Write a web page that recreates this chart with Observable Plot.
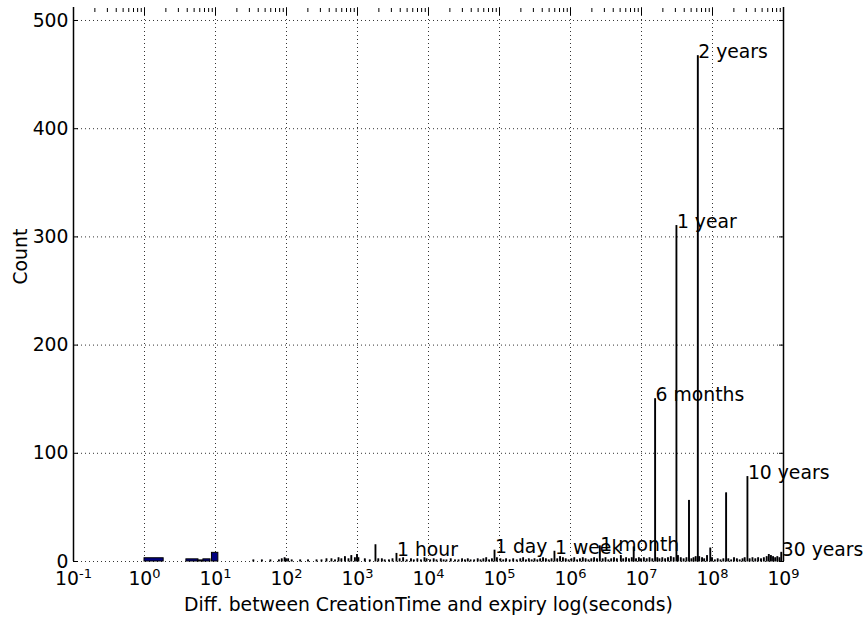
<!DOCTYPE html>
<html><head><meta charset="utf-8">
<script src="https://cdn.jsdelivr.net/npm/d3@7"></script>
<script src="https://cdn.jsdelivr.net/npm/@observablehq/plot@0.6"></script>
<style>body{margin:0;background:#fff;} svg{font-family:"DejaVu Sans",sans-serif;}</style>
</head><body><div id="chart"></div>
<script>
// wide histogram bins (log10 seconds edges) and counts
const wideLo = [0.00, 0.59, 0.76, 0.83, 0.95];
const wideHi = [0.27, 0.76, 0.83, 0.93, 1.04];
const wideCount = [3, 2, 1, 2, 8];

// narrow histogram bins: log10(seconds) centre and count
const binWidthLog = 0.012;
const binLog = [1.54,1.66,1.78,1.90,1.94,1.98,2.00,2.03,2.08,2.20,2.31,2.43,2.50,2.57,2.64,2.69,2.74,2.78,2.83,2.88,2.92,2.97,3.00,3.02,3.11,3.18,3.26,3.30,3.35,3.39,3.45,3.50,3.556,3.60,3.65,3.70,3.76,3.80,3.85,3.90,3.95,3.98,4.03,4.08,4.12,4.18,4.22,4.26,4.32,4.38,4.43,4.48,4.52,4.56,4.60,4.65,4.70,4.74,4.78,4.82,4.86,4.90,4.937,4.97,5.02,5.06,5.10,5.15,5.20,5.25,5.30,5.34,5.38,5.42,5.46,5.50,5.54,5.58,5.62,5.66,5.70,5.74,5.781,5.82,5.86,5.90,5.94,5.98,6.02,6.06,6.10,6.14,6.18,6.22,6.26,6.30,6.34,6.38,6.42,6.46,6.50,6.54,6.58,6.62,6.66,6.716,6.75,6.79,6.83,6.87,6.897,6.93,6.97,7.00,7.04,7.08,7.12,7.16,7.199,7.23,7.26,7.30,7.34,7.38,7.42,7.46,7.499,7.52,7.56,7.60,7.64,7.676,7.71,7.74,7.77,7.800,7.82,7.86,7.89,7.93,7.976,8.00,8.04,8.08,8.12,8.16,8.199,8.23,8.27,8.31,8.35,8.39,8.43,8.46,8.499,8.53,8.57,8.61,8.65,8.69,8.73,8.77,8.80,8.83,8.86,8.89,8.92,8.95,8.976];
const binCount = [1,1,1,1,2,3,2,2,1,1,1,1,1,2,2,1,3,2,4,2,5,3,6,3,2,1,15,2,2,1,1,2,7,2,3,1,2,1,2,1,3,2,1,2,1,2,1,1,2,1,1,2,1,2,1,1,2,1,2,3,1,2,10,3,2,1,2,1,2,1,2,3,1,2,1,2,1,2,3,2,1,2,9,2,4,3,2,1,2,3,1,2,3,2,1,2,3,2,14,2,3,1,2,3,2,5,2,3,2,3,13,2,3,2,3,2,3,2,150,3,2,3,2,3,4,3,310,5,3,2,3,56,2,3,4,467,4,3,2,5,12,3,1,2,1,2,63,2,1,3,2,1,2,3,78,2,3,2,3,2,3,4,6,5,4,3,4,3,8];

// annotations
const labelText = ["1 hour","1 day","1 week","1 month","6 months","1 year","2 years","10 years","30 years"];
const labelSeconds = [3600, 86400, 604800, 2.63e6, 1.58e7, 3.15e7, 6.3e7, 3.15e8, 9.46e8];
const labelCount = [7, 10, 9, 12, 150, 310, 467, 78, 7];

// axis ticks
const xTickExp = [-1,0,1,2,3,4,5,6,7,8,9];
const xMinorMult = [2,3,4,5,6,7,8,9];
const yTicks = [0,100,200,300,400,500];

const bins = [];
wideLo.forEach((lo,i)=>bins.push({x1:10**lo, x2:10**wideHi[i], c:wideCount[i]}));
binLog.forEach((l,i)=>bins.push({x1:10**(l-binWidthLog/2), x2:10**(l+binWidthLog/2), c:binCount[i]}));
const labels = labelText.map((t,i)=>({t, x:labelSeconds[i], y:labelCount[i]}));
const xMajor = xTickExp.map(e=>10**e);
const xMinor = [];
xTickExp.slice(0,-1).forEach(e=>xMinorMult.forEach(m=>xMinor.push(m*10**e)));

const fs = 18.8;
const plot = Plot.plot({
  width: 864, height: 618,
  marginLeft: 73, marginRight: 81, marginTop: 7, marginBottom: 57,
  style: {fontFamily: "DejaVu Sans", fontSize: fs+"px", color: "black", background: "white"},
  x: {type: "log", domain: [0.1, 1e9]},
  y: {domain: [0, 512]},
  marks: [
    Plot.gridX(xMajor, {stroke: "black", strokeOpacity: 1, strokeWidth: 0.8, strokeDasharray: "1,3"}),
    Plot.gridY(yTicks, {stroke: "black", strokeOpacity: 1, strokeWidth: 0.8, strokeDasharray: "1,3"}),
    Plot.rectY(bins, {x1: "x1", x2: "x2", y1: 0, y2: "c", fill: "#000080", stroke: "black", strokeWidth: 1}),
    Plot.ruleX([0.1, 1e9], {stroke: "black", strokeWidth: 1.5}),
    // x tick labels
    Plot.axisX(xMajor, {anchor: "bottom", tickSize: 0, tickPadding: 10, fontSize: fs, tickFormat: d => "10^" + Math.round(Math.log10(d))}),
    // inward ticks on top
    Plot.axisX(xMajor, {anchor: "top", tickSize: -7, tickFormat: () => "", label: null}),
    Plot.axisX(xMinor, {anchor: "top", tickSize: -4, tickFormat: () => "", label: null}),
    Plot.axisY(yTicks, {anchor: "left", tickSize: 0, tickPadding: 5, fontSize: fs, label: null}),
    Plot.axisY(yTicks, {anchor: "left", tickSize: -5, tickFormat: () => "", label: null}),
    Plot.axisY(yTicks, {anchor: "right", tickSize: -5, tickFormat: () => "", label: null}),
    Plot.text(labels, {x: "x", y: "y", text: "t", textAnchor: "start", lineAnchor: "bottom", dy: 2, fontSize: fs, fill: "black"}),
    Plot.text(["Count"], {frameAnchor: "left", rotate: -90, dx: -53, fontSize: fs, fill: "black"}),
    Plot.text(["Diff. between CreationTime and expiry log(seconds)"], {frameAnchor: "bottom", dy: 49, fontSize: fs, fill: "black"})
  ]
});
document.getElementById("chart").appendChild(plot);
d3.select(plot).selectAll("text").each(function(){
  const t = this.textContent;
  const m = /^10\^(-?\d+)$/.exec(t);
  if (m) {
    const el = d3.select(this);
    el.text("10");
    el.append("tspan").attr("dy", "-0.5em").attr("font-size", "13px").text(m[1]);
  }
});
</script></body></html>
